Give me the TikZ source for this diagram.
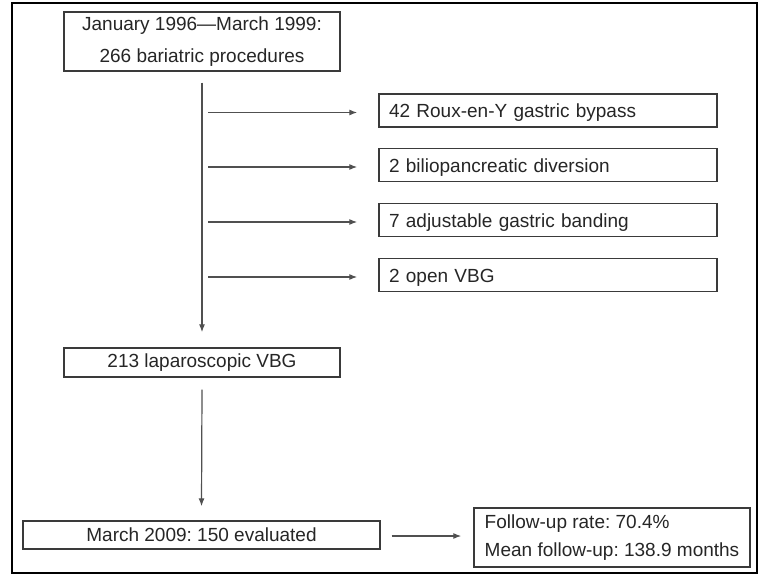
\documentclass[tikz,border=0pt]{standalone}
\usepackage{fontspec}
\setmainfont{Liberation Sans}
\usetikzlibrary{arrows.meta}
\definecolor{txt}{HTML}{262626}
\definecolor{edge}{HTML}{3A3A3A}
\definecolor{lin}{HTML}{505050}
\frenchspacing
\begin{document}
\begin{tikzpicture}[x=1pt,y=-1pt,
  box/.style={draw=edge, line width=1.4pt, inner sep=0pt, text=txt,
    font=\fontsize{19}{23}\selectfont},
  sidebox/.style={box, minimum width=338pt, minimum height=33pt,
    inner xsep=10pt, text width=318pt, align=left,
    text height=14pt, text depth=0pt},
  arr/.style={draw=lin, line width=1.2pt, -{Latex[length=8pt,width=6pt]}}]
\useasboundingbox (0,0) rectangle (765,575);
\fill[white] (0,0) rectangle (765,575);
\draw[line width=2.6pt, black] (12,3) rectangle (757,573);

\node[box, minimum width=276pt, minimum height=59pt, align=center,
  font=\fontsize{19}{32}\selectfont] (top) at (202,41.5)
  {January 1996—March 1999:\\266 bariatric procedures};

\node[sidebox] (b1) at (548,110.5) {42 Roux-en-Y gastric bypass};
\node[sidebox] (b2) at (548,165) {2 biliopancreatic diversion};
\node[sidebox] (b3) at (548,220) {7 adjustable gastric banding};
\node[sidebox] (b4) at (548,275) {2 open VBG};

\node[box, minimum width=276pt, minimum height=29pt] (lap) at (202,362.5)
  {213 laparoscopic VBG};
\node[box, minimum width=357pt, minimum height=28pt] (mar) at (201.5,535)
  {March 2009: 150 evaluated};
\node[box, minimum width=276pt, minimum height=59pt,
  align=left, font=\fontsize{19}{28}\selectfont]
  (fu) at (612,537.5)
  {Follow-up rate: 70.4\%\\Mean follow-up: 138.9 months};

\draw[arr] ([yshift=-11pt]top.south) -- ([yshift=15pt]lap.north);
\coordinate (s1) at (208,112.5);
\coordinate (s2) at (208,167);
\coordinate (s3) at (208,222);
\coordinate (s4) at (208,277);
\draw[arr, shorten >=21pt] (s1) -- (s1 -| b1.west);
\draw[arr, shorten >=21pt] (s2) -- (s2 -| b2.west);
\draw[arr, shorten >=21pt] (s3) -- (s3 -| b3.west);
\draw[arr, shorten >=21pt] (s4) -- (s4 -| b4.west);
\draw[arr] ([yshift=-12pt]lap.south) -- ([yshift=14pt]mar.north);
\draw[arr, shorten <=11pt, shorten >=12pt] ([yshift=-1pt]mar.east) -- ([yshift=-1pt]mar.east -| fu.west);
\end{tikzpicture}
\end{document}
